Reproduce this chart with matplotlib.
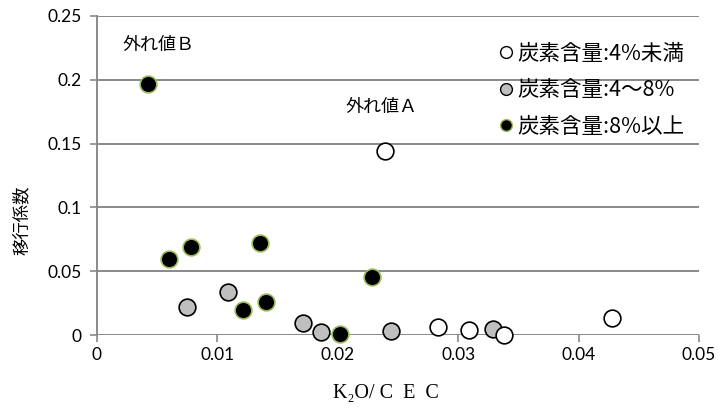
import matplotlib
matplotlib.use("Agg")
import matplotlib.pyplot as plt
from matplotlib.lines import Line2D

plt.rcParams['font.family'] = ['Noto Sans CJK JP', 'DejaVu Sans']

# K2O/CEC ratio vs. transfer coefficient, grouped by soil carbon content
low_x = [0.0239, 0.0283, 0.0309, 0.0338, 0.0428]
low_y = [0.1444, 0.0065, 0.0037, 0.0000, 0.0131]

mid_x = [0.0075, 0.0109, 0.0171, 0.0186, 0.0244, 0.0329]
mid_y = [0.0222, 0.0334, 0.0091, 0.0023, 0.0031, 0.0047]

high_x = [0.0042, 0.0060, 0.0078, 0.0135, 0.0121, 0.0140, 0.0202, 0.0228]
high_y = [0.1967, 0.0598, 0.0690, 0.0721, 0.0196, 0.0259, 0.0008, 0.0452]

series_labels = ['炭素含量:4%未満', '炭素含量:4〜8%', '炭素含量:8%以上']
x_ticks = [0, 0.01, 0.02, 0.03, 0.04, 0.05]
x_ticklabels = ['0', '0.01', '0.02', '0.03', '0.04', '0.05']
y_ticks = [0, 0.05, 0.1, 0.15, 0.2, 0.25]
y_ticklabels = ['0', '0.05', '0.1', '0.15', '0.2', '0.25']

grid_col = '#898989'
fill_low, fill_mid, fill_high = 'white', '#bfbfbf', 'black'
edge_high = '#9bbb59'

fig = plt.figure(figsize=(7.18, 4.12), dpi=100)
ax = fig.add_axes([97 / 718, 1 - 335 / 412, 602 / 718, 319 / 412])

ax.set_xlim(0, 0.05)
ax.set_ylim(0, 0.25)
ax.set_xticks(x_ticks)
ax.set_xticklabels(x_ticklabels)
ax.set_yticks(y_ticks)
ax.set_yticklabels(y_ticklabels)

for lab in ax.get_xticklabels() + ax.get_yticklabels():
    lab.set_fontfamily(['Lato', 'DejaVu Sans'])
    lab.set_fontsize(12.5)

ax.yaxis.grid(True, color=grid_col, linewidth=1.4, zorder=0)
ax.set_axisbelow(True)
for side in ('top', 'right', 'bottom'):
    ax.spines[side].set_visible(False)
ax.spines['left'].set_color(grid_col)
ax.spines['left'].set_linewidth(1.4)
ax.tick_params(axis='both', colors=grid_col, length=5, width=1.2,
               labelcolor='black', pad=4)
ax.tick_params(axis='y', pad=6)

msize = 145
ax.scatter(mid_x, mid_y, s=msize, facecolor=fill_mid, edgecolor='black',
           linewidth=1.2, zorder=3, clip_on=False)
ax.scatter(low_x, low_y, s=msize, facecolor=fill_low, edgecolor='black',
           linewidth=1.2, zorder=3, clip_on=False)
ax.scatter(high_x, high_y, s=msize, facecolor=fill_high, edgecolor=edge_high,
           linewidth=1.2, zorder=4, clip_on=False)

ax.text(0.00507, 0.227, '外れ値Ｂ', fontsize=13, ha='center', va='center')
ax.text(0.0236, 0.179, '外れ値Ａ', fontsize=13, ha='center', va='center')

ax.set_ylabel('移行係数', fontsize=12.5, labelpad=10)
ax.yaxis.set_label_coords(-0.11, 0.36)
ax.set_xlabel('K₂O/ C  E  C', fontsize=14.5,
              family=['Liberation Serif', 'DejaVu Serif'])
ax.xaxis.set_label_coords(0.48, -0.155)

handles = [
    Line2D([], [], ls='none', marker='o', markersize=8.5, mfc=fill_low,
           mec='black', mew=1.0),
    Line2D([], [], ls='none', marker='o', markersize=8.5, mfc=fill_mid,
           mec='black', mew=1.0),
    Line2D([], [], ls='none', marker='o', markersize=8.5, mfc=fill_high,
           mec=edge_high, mew=1.0),
]
ax.legend(handles, series_labels, loc='upper left',
          bbox_to_anchor=(500 / 718, 1 - 43 / 412), bbox_transform=fig.transFigure,
          frameon=False, fontsize=15.5, handlelength=0.55, handletextpad=0.25,
          labelspacing=0.67, borderpad=0, borderaxespad=0)

fig.savefig('out.png', dpi=100)
